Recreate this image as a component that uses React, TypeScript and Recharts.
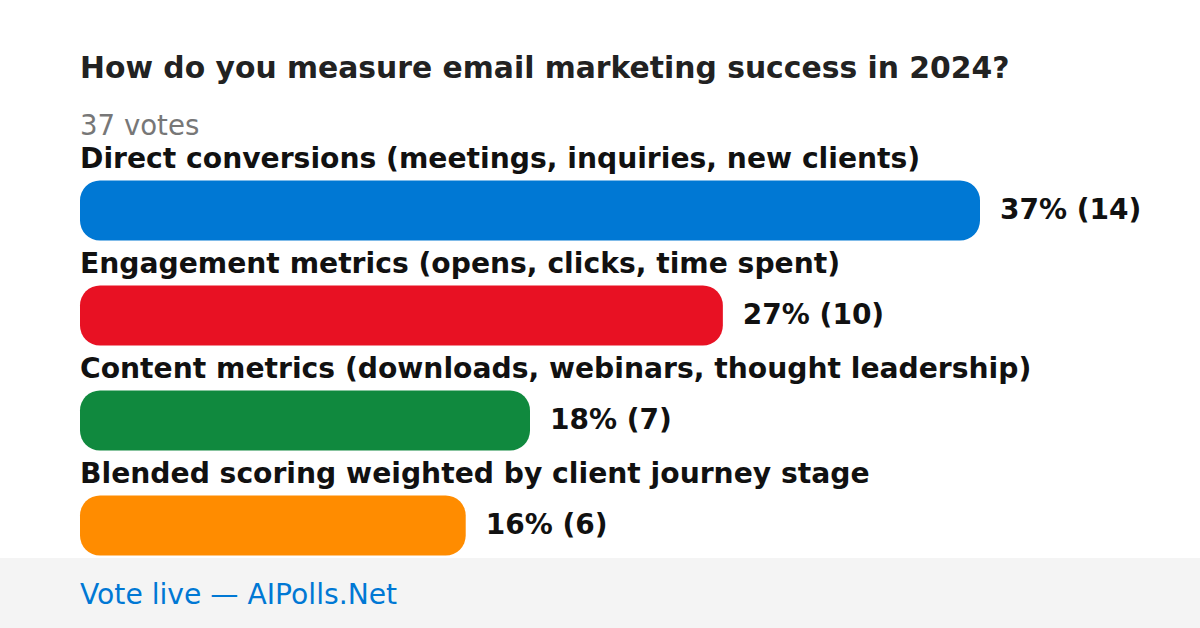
import React from "react";
import { BarChart, Bar, XAxis, YAxis, Cell, LabelList } from "recharts";

const categories = [
  "Direct conversions (meetings, inquiries, new clients)",
  "Engagement metrics (opens, clicks, time spent)",
  "Content metrics (downloads, webinars, thought leadership)",
  "Blended scoring weighted by client journey stage",
];
const votes = [14, 10, 7, 6];
const percents = [37, 27, 18, 16];
const colors = ["#0078d4", "#e81123", "#10893e", "#ff8c00"];

const data = categories.map((name, i) => ({
  name,
  votes: votes[i],
  label: `${percents[i]}% (${votes[i]})`,
}));

const FONT = "'DejaVu Sans', sans-serif";

function NameLabel(props: any) {
  const { x, y, index } = props;
  return (
    <text x={x} y={y - 13} fontFamily={FONT} fontSize={28.2} fontWeight="bold" fill="#111">
      {categories[index]}
    </text>
  );
}

function ValueLabel(props: any) {
  const { x, y, width, value } = props;
  return (
    <text x={x + width + 20} y={y + 38} fontFamily={FONT} fontSize={28} fontWeight="bold" fill="#111">
      {value}
    </text>
  );
}

export default function App() {
  return (
    <div style={{ position: "absolute", left: 0, top: 0, width: 1200, height: 628, background: "#fff" }}>
      <svg width={1200} height={628} style={{ position: "absolute", left: 0, top: 0 }}>
        <text x={80} y={78} fontFamily={FONT} fontSize={29.8} fontWeight="bold" fill="#222">
          How do you measure email marketing success in 2024?
        </text>
        <text x={80} y={135} fontFamily={FONT} fontSize={27.6} fill="#777">
          37 votes
        </text>
        <rect x={0} y={558} width={1200} height={70} fill="#f4f4f4" />
        <text x={80} y={604} fontFamily={FONT} fontSize={28.2} fill="#0078d4">
          Vote live — AIPolls.Net
        </text>
      </svg>
      <div style={{ position: "absolute", left: 0, top: 0 }}>
        <BarChart
          width={1200}
          height={628}
          data={data}
          layout="vertical"
          margin={{ top: 157.5, right: 220, bottom: 50.5, left: 80 }}
        >
          <XAxis type="number" domain={[0, 14]} hide />
          <YAxis type="category" dataKey="name" hide />
          <Bar dataKey="votes" barSize={60} radius={20} isAnimationActive={false}>
            {data.map((d, i) => (
              <Cell key={d.name} fill={colors[i]} />
            ))}
            <LabelList dataKey="name" content={NameLabel} />
            <LabelList dataKey="label" content={ValueLabel} />
          </Bar>
        </BarChart>
      </div>
    </div>
  );
}
